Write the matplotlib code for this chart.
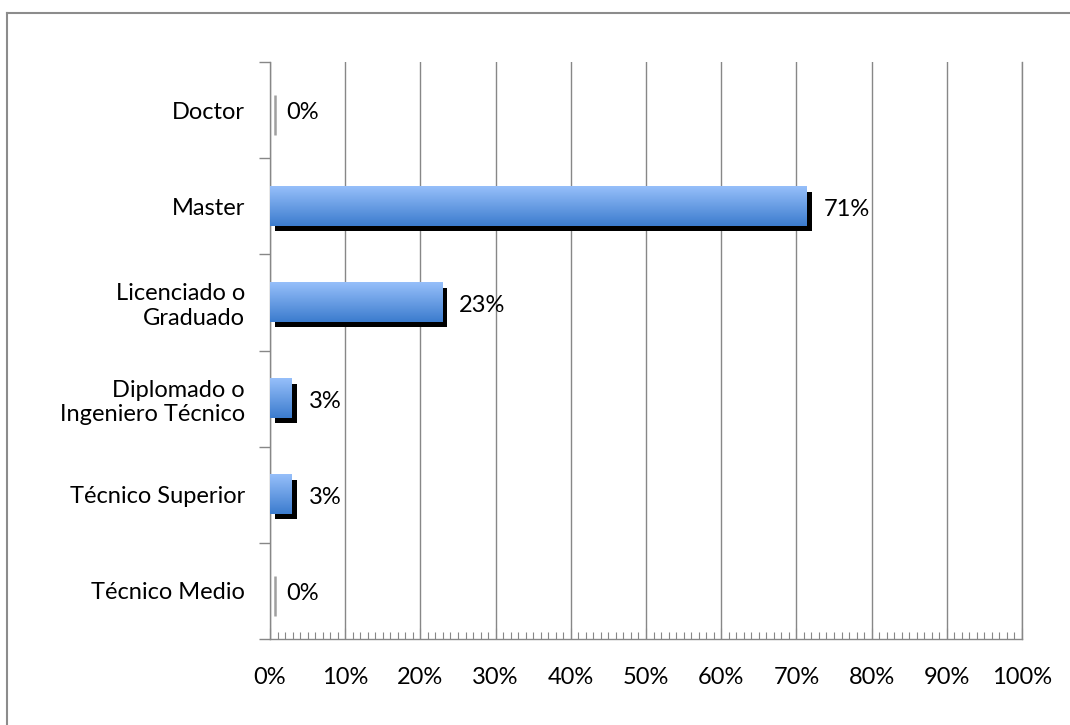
import numpy as np
import matplotlib
matplotlib.use("Agg")
import matplotlib.pyplot as plt
from matplotlib.transforms import ScaledTranslation
from matplotlib.ticker import MultipleLocator, FuncFormatter
from matplotlib.lines import Line2D

# Share of respondents by highest education level (bottom to top)
categories = ["Técnico Medio", "Técnico Superior", "Diplomado o\nIngeniero Técnico",
              "Licenciado o\nGraduado", "Master", "Doctor"]
values = [0.0, 2.9, 2.9, 22.9, 71.4, 0.0]
x_ticks = list(range(0, 101, 10))

plt.rcParams["font.family"] = ["Lato", "DejaVu Sans"]
FS = 17
GRAY = "#878787"

fig = plt.figure(figsize=(10.7, 7.25), dpi=100)
ax = fig.add_axes([270 / 1070, 1 - 639 / 725, 752 / 1070, 577 / 725])

bar_h = 0.41
shadow = ax.transData + ScaledTranslation(5 / 100, -5 / 100, fig.dpi_scale_trans)

# gradient used to fill each bar: light blue on top, darker blue below
top_col = np.array([150, 191, 250]) / 255
bot_col = np.array([60, 124, 206]) / 255
t = np.linspace(0, 1, 64)[:, None]
grad = (top_col * (1 - t) + bot_col * t)[:, None, :]

ypos = np.arange(len(categories))
for y, v in zip(ypos, values):
    if v > 0:
        # drop shadow
        sh = ax.barh(y, v, height=bar_h, color="black", zorder=2)
        for p in sh:
            p.set_transform(shadow)
        ax.imshow(grad, extent=(0, v, y - bar_h / 2, y + bar_h / 2),
                  aspect="auto", zorder=3, interpolation="bilinear")
    else:
        ax.plot([v, v], [y - bar_h / 2, y + bar_h / 2], color="#a0a0a0",
                lw=1.8, transform=shadow, zorder=2, solid_capstyle="butt")
    ax.annotate(f"{v:.0f}%", xy=(v, y), xytext=(12, -2), textcoords="offset points",
                va="center", ha="left", fontsize=FS, color="black", zorder=4)

ax.set_xlim(0, 100)
ax.set_ylim(-0.5, len(categories) - 0.5)

ax.set_xticks(x_ticks)
ax.xaxis.set_major_formatter(FuncFormatter(lambda x, _: f"{x:.0f}%"))
ax.xaxis.set_minor_locator(MultipleLocator(1))
ax.tick_params(axis="x", which="major", direction="in", length=8, color=GRAY,
               pad=20, labelsize=FS)
ax.tick_params(axis="x", which="minor", direction="in", length=5, color=GRAY, width=0.8)

ax.set_yticks(ypos)
ax.set_yticklabels(categories, fontsize=FS, ha="right", multialignment="right")
ax.set_yticks(np.arange(-0.5, len(categories), 1), minor=True)
ax.tick_params(axis="y", which="major", length=0, pad=18)
ax.tick_params(axis="y", which="minor", direction="out", length=8, color=GRAY, width=1)

ax.grid(axis="x", which="major", color=GRAY, lw=1, zorder=0)
ax.set_axisbelow(True)
for side in ["left", "bottom", "right"]:
    ax.spines[side].set_color(GRAY)
    ax.spines[side].set_linewidth(1)
ax.spines["top"].set_visible(False)

# chart area frame (top and left edges)
fig.add_artist(Line2D([7 / 1070, 1.0], [1 - 13 / 725] * 2, color="#8c8c8c", lw=1.5,
                      transform=fig.transFigure))
fig.add_artist(Line2D([7 / 1070] * 2, [0, 1 - 13 / 725], color="#8c8c8c", lw=1.5,
                      transform=fig.transFigure))

fig.savefig("out.png", dpi=100)
